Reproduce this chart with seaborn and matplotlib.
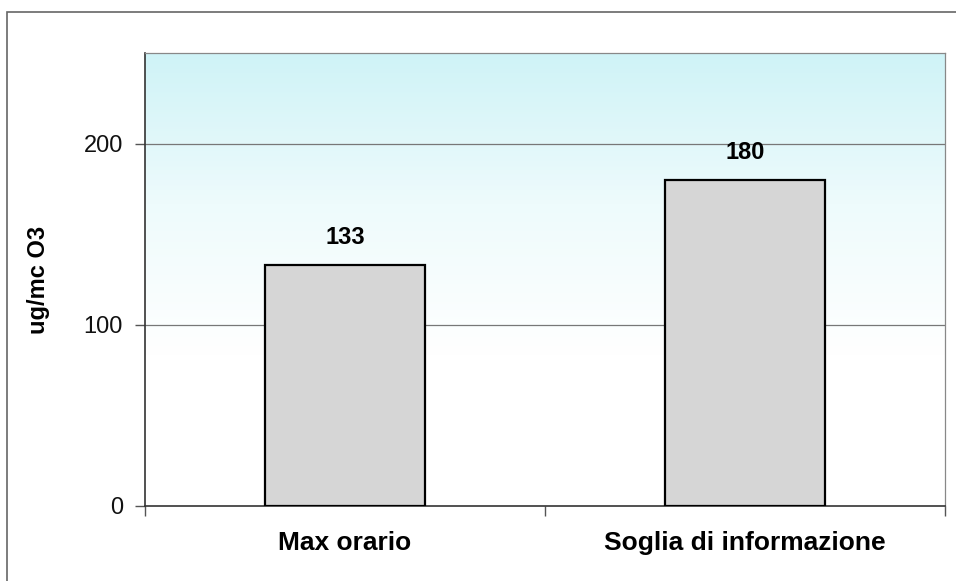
import numpy as np
import pandas as pd
import seaborn as sns
import matplotlib.pyplot as plt
from matplotlib.colors import LinearSegmentedColormap
from matplotlib.patches import Rectangle

categorie = ['Max orario', 'Soglia di informazione']
valori = [133, 180]
y_ticks = [0, 100, 200]

df = pd.DataFrame({'categoria': categorie, 'valore': valori})

sns.set_style('white')
plt.rcParams['font.family'] = ['Liberation Sans', 'DejaVu Sans']
plt.rcParams['text.color'] = 'black'
plt.rcParams['axes.labelcolor'] = 'black'
plt.rcParams['xtick.color'] = '#555555'
plt.rcParams['ytick.color'] = '#555555'
plt.rcParams['xtick.labelcolor'] = 'black'
plt.rcParams['ytick.labelcolor'] = '#111111'

fig = plt.figure(figsize=(9.56, 5.81), dpi=100)
ax = fig.add_axes([145 / 956, 1 - 506 / 581, 800 / 956, 453 / 581])

# sfondo sfumato azzurro -> bianco
cmap = LinearSegmentedColormap.from_list('sf', ['#ffffff', '#ffffff', '#eefbfc', '#cff3f7'])
grad = np.linspace(0, 1, 256).reshape(-1, 1)
ax.imshow(grad, cmap=cmap, aspect='auto', origin='lower',
          extent=[-0.5, 1.5, 0, 250], zorder=0)

sns.barplot(data=df, x='categoria', y='valore', ax=ax, color='#d6d6d6',
            edgecolor='black', linewidth=1.6, width=0.4, saturation=1, zorder=3)

ax.set_xlim(-0.5, 1.5)
ax.set_ylim(0, 250)
ax.set_yticks(y_ticks)
for y in y_ticks[1:]:
    ax.axhline(y, color='#777777', lw=0.9, zorder=1)

for i, v in enumerate(valori):
    ax.text(i, v + 9, str(v), ha='center', va='bottom', fontsize=17,
            fontweight='bold', zorder=4)

ax.set_xticks([0, 1])
ax.set_xticklabels(categorie, fontsize=19, fontweight='bold')
ax.set_xticks([-0.5, 0.5, 1.5], minor=True)
ax.tick_params(axis='x', which='major', bottom=True, length=0, pad=18)
ax.tick_params(axis='x', which='minor', bottom=True, length=7, width=1, direction='out')
ax.tick_params(axis='y', left=True, length=7, width=1, direction='out', labelsize=17, pad=9)
ax.set_xlabel('')
ax.set_ylabel('ug/mc O3', fontsize=17, fontweight='bold', labelpad=24)

for s in ['left', 'bottom']:
    ax.spines[s].set_color('#333333')
    ax.spines[s].set_linewidth(1.2)
for s in ['top', 'right']:
    ax.spines[s].set_color('#888888')
    ax.spines[s].set_linewidth(0.9)

# cornice esterna
fig.patches.append(Rectangle((7 / 956, -0.05), 1.1, 1 - 12 / 581 + 0.05,
                             transform=fig.transFigure, fill=False,
                             edgecolor='#666666', lw=1.2))

fig.savefig('out.png', dpi=100)
